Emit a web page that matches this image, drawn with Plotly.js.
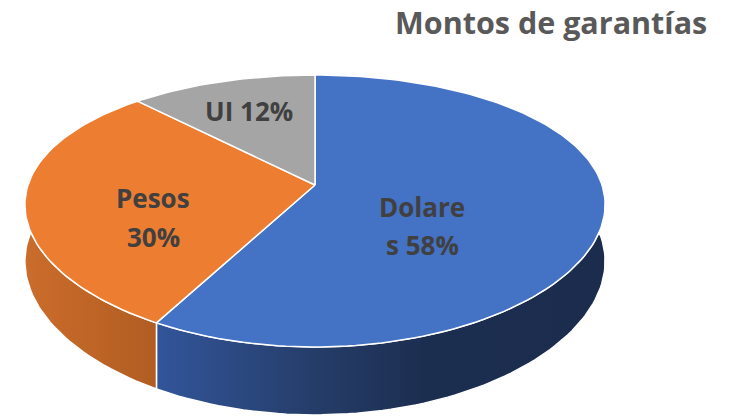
<!DOCTYPE html>
<html>
<head>
<meta charset="utf-8">
<script src="https://cdn.plot.ly/plotly-3.0.1.min.js"></script>
<style>html,body{margin:0;padding:0;background:#fff;}#chart{width:730px;height:417px;}</style>
</head>
<body>
<div id="chart"></div>
<script>
// ---- data ----
var chartTitle = 'Montos de garantías';
var categories = ['Dolares', 'Pesos', 'UI'];
var values = [58, 30, 12];
var topColors = ['#4472C4', '#ED7D31', '#A5A5A5'];
var wallScales = [
  [[0, '#32559A'], [0.35, '#253D69'], [0.6, '#1C2E50'], [1, '#1B2C4D']],
  [[0, '#CB6C2B'], [1, '#B15D22']],
  [[0, '#8A8A8A'], [1, '#7A7A7A']]
];
var labelBreaks = [6, 5, null];

// ---- geometry of the tilted pie (layout, not data) ----
var CX = 315, CY = 185, B = 287, A = 131, KX = 0.146, KY = 0.191, H = 55;
var labelPos = [[422, 0], [153, 0], [249, 0]];
var labelBase = [[217, 255], [208, 247], [121]];

function proj(r, deg, z) {
  var t = deg * Math.PI / 180;
  var u = Math.sin(t), v = Math.cos(t);
  var fx = 1 / (1 + KX * r * v);
  var fy = 1 / (1 + KY * r * v);
  return [CX + B * r * u * fx, CY - A * r * v * fy + z * H * fy];
}
function arc(a, b, z) {
  var pts = [], n = Math.max(2, Math.ceil(Math.abs(b - a) / 1.5));
  for (var i = 0; i <= n; i++) pts.push(proj(1, a + (b - a) * i / n, z));
  return pts;
}

var total = values.reduce(function (s, v) { return s + v; }, 0);
var starts = [], ends = [], acc = 0;
values.forEach(function (v) { starts.push(acc / total * 360); acc += v; ends.push(acc / total * 360); });

var traces = [];
// walls (front side)
values.forEach(function (v, i) {
  var a = Math.max(starts[i], 80), b = Math.min(ends[i], 280);
  if (b <= a) return;
  var pts = arc(a, b, 0).concat(arc(b, a, 1));
  pts.push(pts[0]);
  traces.push({
    type: 'scatter', mode: 'lines', hoverinfo: 'skip', showlegend: false,
    x: pts.map(function (p) { return p[0]; }), y: pts.map(function (p) { return p[1]; }),
    fill: 'toself', fillcolor: wallScales[i][0][1],
    fillgradient: { type: 'horizontal', colorscale: wallScales[i] },
    line: { color: '#FFFFFF', width: 1.5 }
  });
});
// top faces
values.forEach(function (v, i) {
  var pts = [proj(0, 0, 0)].concat(arc(starts[i], ends[i], 0));
  pts.push(pts[0]);
  traces.push({
    type: 'scatter', mode: 'lines', hoverinfo: 'skip', showlegend: false,
    x: pts.map(function (p) { return p[0]; }), y: pts.map(function (p) { return p[1]; }),
    fill: 'toself', fillcolor: topColors[i],
    line: { color: '#FFFFFF', width: 1.5 }
  });
});

var annotations = [];
categories.forEach(function (c, i) {
  var txt = c + ' ' + values[i] + '%';
  var lines = labelBreaks[i] ? [txt.slice(0, labelBreaks[i]).trim(), txt.slice(labelBreaks[i]).trim()] : [txt];
  lines.forEach(function (ln, j) {
    annotations.push({
      x: labelPos[i][0], y: labelBase[i][j] - 10, xref: 'x', yref: 'y',
      text: ln, showarrow: false, xanchor: 'center', yanchor: 'middle',
      font: { family: 'Open Sans', size: 26, color: '#404040', weight: 'bold' }
    });
  });
});
annotations.push({
  x: 551, y: 22, xref: 'x', yref: 'y', text: chartTitle, showarrow: false,
  xanchor: 'center', yanchor: 'middle',
  font: { family: 'Open Sans', size: 30.5, color: '#595959', weight: 'bold' }
});

var layout = {
  width: 730, height: 417,
  margin: { l: 0, r: 0, t: 0, b: 0 },
  paper_bgcolor: '#FFFFFF', plot_bgcolor: '#FFFFFF',
  xaxis: { range: [0, 730], visible: false, fixedrange: true },
  yaxis: { range: [417, 0], visible: false, fixedrange: true },
  annotations: annotations,
  showlegend: false
};
Plotly.newPlot('chart', traces, layout, { displayModeBar: false, staticPlot: true });
</script>
</body>
</html>
